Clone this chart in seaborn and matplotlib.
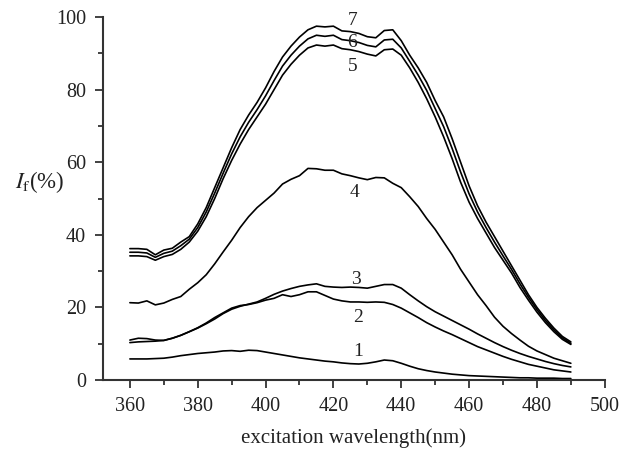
import numpy as np
import pandas as pd
import matplotlib
matplotlib.use("Agg")
import matplotlib.pyplot as plt
import seaborn as sns
from matplotlib.ticker import MultipleLocator

wavelength = [360, 362.5, 365, 367.5, 370, 372.5, 375, 377.5, 380, 382.5, 385, 387.5, 390, 392.5, 395, 397.5,
              400, 402.5, 405, 407.5, 410, 412.5, 415, 417.5, 420, 422.5, 425, 427.5, 430, 432.5, 435, 437.5,
              440, 442.5, 445, 447.5, 450, 452.5, 455, 457.5, 460, 462.5, 465, 467.5, 470, 472.5, 475, 477.5,
              480, 482.5, 485, 487.5, 490]

curve1 = [5.8, 5.8, 5.8, 5.9, 6.0, 6.3, 6.7, 7.0, 7.3, 7.5, 7.7, 8.0, 8.1, 7.9, 8.2, 8.1,
          7.7, 7.3, 6.9, 6.5, 6.1, 5.8, 5.5, 5.2, 5.0, 4.7, 4.5, 4.4, 4.6, 5.0, 5.5, 5.3,
          4.6, 3.8, 3.1, 2.6, 2.2, 1.9, 1.6, 1.4, 1.2, 1.1, 1.0, 0.9, 0.8, 0.7, 0.6, 0.6,
          0.5, 0.5, 0.5, 0.4, 0.4]
curve2 = [10.3, 10.5, 10.6, 10.7, 10.9, 11.5, 12.3, 13.3, 14.4, 15.7, 17.2, 18.5, 19.8, 20.5, 20.8, 21.3,
          22.0, 22.5, 23.5, 23.0, 23.5, 24.3, 24.3, 23.3, 22.3, 21.8, 21.5, 21.5, 21.4, 21.5, 21.4, 20.8,
          19.8, 18.5, 17.2, 15.8, 14.6, 13.5, 12.5, 11.4, 10.3, 9.2, 8.3, 7.4, 6.5, 5.7, 5.0, 4.3,
          3.8, 3.3, 2.8, 2.5, 2.2]
curve3 = [11.0, 11.5, 11.4, 11.0, 10.9, 11.5, 12.3, 13.3, 14.3, 15.5, 16.8, 18.3, 19.5, 20.3, 20.9, 21.5,
          22.5, 23.6, 24.5, 25.2, 25.8, 26.2, 26.5, 25.8, 25.6, 25.5, 25.6, 25.5, 25.3, 25.8, 26.3, 26.3,
          25.3, 23.5, 21.8, 20.2, 18.8, 17.6, 16.4, 15.2, 14.0, 12.7, 11.5, 10.3, 9.2, 8.2, 7.3, 6.5,
          5.8, 5.1, 4.5, 4.0, 3.6]
curve4 = [21.3, 21.2, 21.8, 20.7, 21.2, 22.2, 23.0, 25.0, 26.8, 29.0, 32.0, 35.3, 38.5, 42.0, 45.0, 47.5,
          49.5, 51.5, 54.0, 55.3, 56.3, 58.3, 58.2, 57.8, 57.8, 56.8, 56.3, 55.7, 55.2, 55.8, 55.7, 54.2,
          53.0, 50.5, 47.8, 44.5, 41.5, 38.0, 34.5, 30.5, 27.0, 23.5, 20.5, 17.3, 14.8, 12.8, 11.0, 9.3,
          8.0, 7.0, 6.0, 5.3, 4.6]
curve5 = [34.2, 34.2, 34.0, 33.0, 34.0, 34.6, 36.0, 38.0, 41.0, 45.0, 50.0, 55.5, 60.5, 65.0, 69.0, 72.5,
          76.0, 80.0, 84.0, 87.0, 89.5, 91.5, 92.3, 92.0, 92.3, 91.3, 91.0, 90.5, 89.8, 89.3, 91.0, 91.2,
          89.5, 86.0, 82.0, 77.5, 72.5, 67.0, 61.0, 54.5, 49.0, 44.5, 40.5, 36.5, 33.0, 29.5, 25.5, 22.0,
          18.7, 15.8, 13.3, 11.2, 9.8]
curve6 = [35.2, 35.2, 35.0, 33.8, 34.9, 35.5, 37.0, 38.8, 42.0, 46.3, 51.5, 57.0, 62.3, 67.0, 71.0, 74.5,
          78.3, 82.5, 86.5, 89.5, 92.0, 94.0, 95.0, 94.7, 95.0, 93.8, 93.5, 93.0, 92.2, 91.8, 93.7, 93.9,
          91.5, 87.8, 84.0, 79.8, 74.8, 69.8, 63.8, 57.3, 51.3, 46.3, 42.0, 38.0, 34.2, 30.5, 26.5, 22.8,
          19.4, 16.4, 13.8, 11.6, 10.1]
curve7 = [36.2, 36.2, 36.0, 34.5, 35.8, 36.3, 38.0, 39.5, 43.0, 47.5, 53.0, 58.5, 64.0, 69.0, 73.0, 76.5,
          80.5, 85.0, 89.0, 92.0, 94.5, 96.5, 97.5, 97.3, 97.5, 96.2, 96.0, 95.5, 94.6, 94.3, 96.3, 96.5,
          93.5, 89.5, 86.0, 82.0, 77.0, 72.5, 66.5, 60.0, 53.5, 48.0, 43.5, 39.5, 35.5, 31.5, 27.5, 23.5,
          20.0, 17.0, 14.3, 12.0, 10.5]

curve_names = ["1", "2", "3", "4", "5", "6", "7"]
label_x = [427.3, 427.3, 426.5, 426.3, 425.6, 425.6, 425.6]
label_y = [7.8, 17.2, 27.8, 51.6, 86.3, 93.0, 99.0]

x_ticks = [360, 380, 400, 420, 440, 460, 480, 500]
y_ticks = [0, 20, 40, 60, 80, 100]

sns.set_style("ticks")
plt.rcParams["font.family"] = ["Liberation Serif", "DejaVu Serif"]
plt.rcParams["mathtext.fontset"] = "stix"

frames = []
for name, vals in zip(curve_names, [curve1, curve2, curve3, curve4, curve5, curve6, curve7]):
    frames.append(pd.DataFrame({"wavelength": wavelength, "intensity": vals, "curve": name}))
df = pd.concat(frames, ignore_index=True)

fig = plt.figure(figsize=(6.19, 4.5), dpi=100)
ax = fig.add_axes([0.166, 0.1556, 0.811, 0.8064])

sns.lineplot(data=df, x="wavelength", y="intensity", units="curve", estimator=None,
             color="black", linewidth=1.2, ax=ax, legend=False)

for name, lx, ly in zip(curve_names, label_x, label_y):
    ax.text(lx, ly, name, ha="center", va="center", fontsize=14, color="#222222")

ax.set_xlim(352, 500)
ax.set_ylim(0, 100)
ax.set_xticks(x_ticks)
ax.set_yticks(y_ticks)
ax.xaxis.set_minor_locator(MultipleLocator(10))
ax.yaxis.set_minor_locator(MultipleLocator(10))
ax.tick_params(axis="both", which="major", length=6, width=1.3, labelsize=14.5, color="#333333",
               labelcolor="#222222", direction="out", pad=6)
ax.tick_params(axis="both", which="minor", length=3.5, width=1.3, color="#333333", direction="out")
for s in ["top", "right"]:
    ax.spines[s].set_visible(False)
for s in ["left", "bottom"]:
    ax.spines[s].set_linewidth(1.5)
    ax.spines[s].set_color("#333333")

ax.set_xlabel("excitation wavelength(nm)", fontsize=15, color="#222222", labelpad=9)
ax.set_ylabel(r"$I_{\mathrm{f}}$(%)", fontsize=16.5, rotation=0, color="#222222", va="center", ha="center")
ax.yaxis.set_label_coords(-0.126, 0.545)

fig.savefig("out.png", dpi=100)
